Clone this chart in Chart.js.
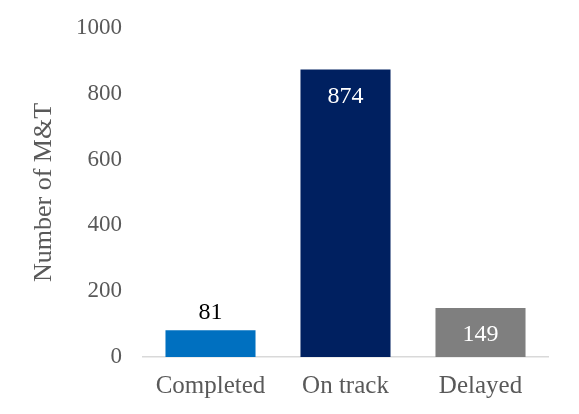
<!DOCTYPE html>
<html>
<head>
<meta charset="utf-8">
<script src="https://cdn.jsdelivr.net/npm/chart.js@4"></script>
<style>
  html, body { margin: 0; padding: 0; background: #fff; }
  #wrap { width: 579px; height: 414px; }
</style>
</head>
<body>
<div id="wrap"><canvas id="barChart" width="579" height="414"></canvas></div>
<script>
const categories = ["Completed", "On track", "Delayed"];
const counts = [81, 874, 149];
const barColors = ["#0070C0", "#002060", "#7F7F7F"];
const yTicks = [0, 200, 400, 600, 800, 1000];

const serif = "'Liberation Serif', 'Times New Roman', serif";

// value labels: inside the top of tall bars, above short ones
const valueLabels = {
  id: "valueLabels",
  afterDatasetsDraw(chart) {
    const ctx = chart.ctx;
    const meta = chart.getDatasetMeta(0);
    ctx.save();
    ctx.font = "24px " + serif;
    ctx.textAlign = "center";
    ctx.textBaseline = "middle";
    meta.data.forEach((bar, i) => {
      const h = bar.base - bar.y;
      if (h > 40) {
        ctx.fillStyle = "#ffffff";
        ctx.fillText(String(counts[i]), bar.x, bar.y + 27);
      } else {
        ctx.fillStyle = "#000000";
        ctx.fillText(String(counts[i]), bar.x, bar.y - 18);
      }
    });
    ctx.restore();
  },
};

const data = {
  labels: categories,
  datasets: [
    {
      label: "Number of M&T",
      data: counts,
      backgroundColor: barColors,
      categoryPercentage: 1,
      barPercentage: 0.667,
    },
  ],
};

const config_bar = {
  type: "bar",
  data: data,
  options: {
    responsive: false,
    animation: false,
    layout: { padding: { top: 28, right: 31, bottom: 0, left: 0 } },
    plugins: {
      legend: { display: false },
      tooltip: { enabled: false },
    },
    scales: {
      x: {
        grid: { display: false, drawTicks: false },
        border: { display: true, color: "#D9D9D9", width: 1.5 },
        ticks: {
          color: "#595959",
          font: { family: serif, size: 25 },
          padding: 14,
        },
        afterFit(scale) { scale.height = 57; },
      },
      y: {
        min: 0,
        max: 1000,
        afterBuildTicks(scale) {
          scale.ticks = yTicks.map((v) => ({ value: v }));
        },
        grid: { display: false, drawTicks: false },
        border: { display: false },
        ticks: {
          color: "#595959",
          font: { family: serif, size: 23 },
          padding: 21,
          callback: (v) => String(v),
        },
        title: {
          display: true,
          text: "Number of M&T",
          color: "#595959",
          font: { family: serif, size: 26 },
          padding: { top: 29, bottom: 0 },
        },
        afterFit(scale) {
          scale.width = 143;
          scale.paddingTop = 0;
          scale.paddingBottom = 0;
        },
      },
    },
  },
  plugins: [valueLabels],
};

const myBarChart = new Chart(document.getElementById("barChart"), config_bar);
</script>
</body>
</html>
